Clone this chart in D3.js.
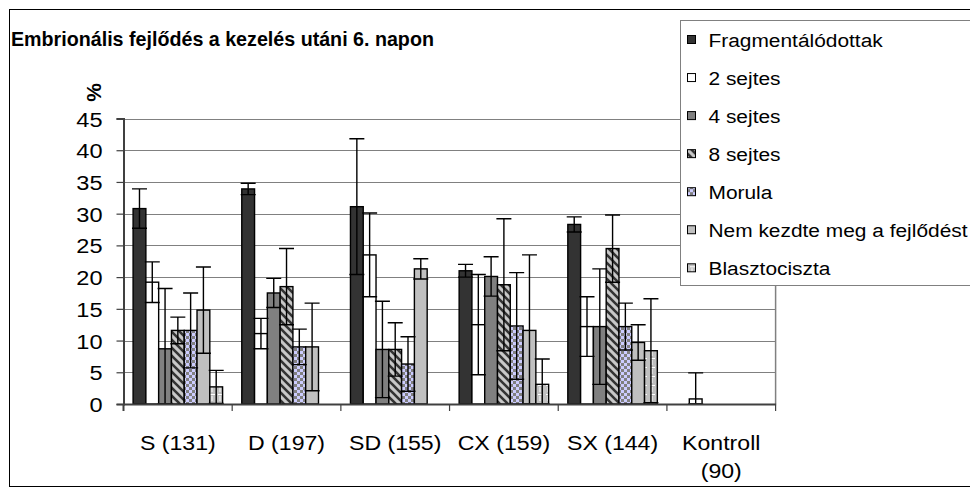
<!DOCTYPE html>
<html>
<head>
<meta charset="utf-8">
<script src="https://cdn.jsdelivr.net/npm/d3@7"></script>
<style>
  body { margin: 0; background: #fff; }
  svg { display: block; }
  text { font-family: "Liberation Sans", Arial, sans-serif; fill: #000; }
</style>
</head>
<body>
<div id="chart"></div>
<script>
// group labels (x axis), '\n' marks a line break
const categories = ['S (131)', 'D (197)', 'SD (155)', 'CX (159)', 'SX (144)', 'Kontroll\n(90)'];
const series = ['Fragmentálódottak', '2 sejtes', '4 sejtes', '8 sejtes', 'Morula', 'Nem kezdte meg a fejlődést', 'Blasztociszta'];
const yTicks = [0, 5, 10, 15, 20, 25, 30, 35, 40, 45];

// mean % per series, one value per group
const fragmentalodottak = [30.8, 33.9, 31.1, 21.0, 28.3, 0];
const ketSejtes        = [19.2, 11.1, 23.5, 12.5, 12.2, 0.8];
const negySejtes       = [8.7, 17.5, 8.6, 20.1, 12.2, 0];
const nyolcSejtes      = [11.6, 18.5, 8.6, 18.8, 24.5, 0];
const morula           = [11.6, 9.0, 6.3, 12.3, 12.2, 0];
const nemKezdte        = [14.8, 9.0, 21.3, 11.6, 9.7, 0];
const blasztociszta    = [2.7, 0, 0, 3.1, 8.4, 0];

// error (+/-) per series
const errFragm   = [3.1, 0.9, 10.7, 1.0, 1.2, 0];
const errKet     = [3.2, 2.4, 6.6, 7.9, 4.7, 4.1];
const errNegy    = [9.5, 2.3, 7.6, 3.1, 9.1, 0];
const errNyolc   = [2.1, 6.0, 4.2, 10.4, 5.3, 0];
const errMorula  = [5.9, 2.8, 4.3, 8.4, 3.7, 0];
const errNem     = [6.8, 6.9, 1.6, 11.9, 2.8, 0];
const errBlaszto = [2.6, 0, 0, 4.0, 8.2, 0];

const values = [fragmentalodottak, ketSejtes, negySejtes, nyolcSejtes, morula, nemKezdte, blasztociszta];
const errors = [errFragm, errKet, errNegy, errNyolc, errMorula, errNem, errBlaszto];

const width = 970, height = 495;

const svg = d3.select('#chart').append('svg')
    .attr('width', width)
    .attr('height', height);

/*************************** patterns **************************/
const defs = svg.append('defs');

// 8 sejtes: dark diagonal stripes on light grey
const pStripe = defs.append('pattern').attr('id', 'p-stripe')
    .attr('patternUnits', 'userSpaceOnUse').attr('width', 8).attr('height', 8);
pStripe.append('rect').attr('width', 8).attr('height', 8).attr('fill', '#c8c8c8');
pStripe.append('path').attr('d', 'M-2,-2 L10,10 M-2,6 L2,10 M6,-2 L10,2')
    .attr('stroke', '#333').attr('stroke-width', 2.6);

// Morula: grey / lavender checks
const pCheck = defs.append('pattern').attr('id', 'p-check')
    .attr('patternUnits', 'userSpaceOnUse').attr('width', 6).attr('height', 6);
pCheck.append('rect').attr('width', 6).attr('height', 6).attr('fill', '#ccccff');
pCheck.append('rect').attr('width', 3).attr('height', 3).attr('fill', '#808080');
pCheck.append('rect').attr('x', 3).attr('y', 3).attr('width', 3).attr('height', 3).attr('fill', '#808080');

// Blasztociszta: light grey with white grid marks
const pGrid = defs.append('pattern').attr('id', 'p-grid')
    .attr('patternUnits', 'userSpaceOnUse').attr('width', 8).attr('height', 9);
pGrid.append('rect').attr('width', 8).attr('height', 9).attr('fill', '#c0c0c0');
pGrid.append('path').attr('d', 'M4,0 V5 M2,7.5 H7')
    .attr('stroke', '#fff').attr('stroke-width', 1);

const fills = ['#333333', '#ffffff', '#808080', 'url(#p-stripe)', 'url(#p-check)', '#c0c0c0', 'url(#p-grid)'];

/*************************** frame & title **************************/
svg.append('rect')
    .attr('x', 9.5).attr('y', 9.5)
    .attr('width', 1000).attr('height', 477)
    .attr('fill', '#fff').attr('stroke', '#000').attr('stroke-width', 1);

// the original text is drawn a bit wider than plain Arial
function stretchedText(parent, x, y, str, size, sx, anchor, bold) {
    return parent.append('text')
        .attr('transform', `translate(${x},${y}) scale(${sx},1)`)
        .attr('text-anchor', anchor || 'start')
        .style('font-size', size + 'px')
        .style('font-weight', bold ? 'bold' : 'normal')
        .text(str);
}

stretchedText(svg, 11, 46, 'Embrionális fejlődés a kezelés utáni 6. napon', 20.5, 0.96, 'start', true);

svg.append('text')
    .attr('transform', 'translate(100.5,92.5) rotate(-90)')
    .attr('text-anchor', 'middle')
    .style('font-size', '21px')
    .style('font-weight', 'bold')
    .text('%');

/*************************** scales **************************/
const plotLeft = 123.5, plotRight = 775.6;
const y = d3.scaleLinear().domain([0, 45]).range([404, 118.5]);
const x0 = d3.scaleBand().domain(categories).range([plotLeft, plotRight]).paddingInner(0).paddingOuter(0);
const x1 = d3.scaleBand().domain(d3.range(series.length)).range([0, x0.bandwidth()])
    .paddingInner(0).paddingOuter(0.75);

// gridlines
svg.append('g').selectAll('line')
    .data(yTicks.filter(d => d > 0))
    .enter().append('line')
    .attr('x1', plotLeft).attr('x2', plotRight)
    .attr('y1', d => Math.round(y(d)) + 0.5).attr('y2', d => Math.round(y(d)) + 0.5)
    .attr('stroke', '#808080').attr('stroke-width', 1);

// right border of plot area
svg.append('line')
    .attr('x1', plotRight).attr('x2', plotRight)
    .attr('y1', y(45)).attr('y2', y(0))
    .attr('stroke', '#808080').attr('stroke-width', 1.5);

/*************************** bars **************************/
const barData = [];
categories.forEach((c, gi) => {
    series.forEach((s, si) => {
        barData.push({ cat: c, si: si, v: values[si][gi], e: errors[si][gi] });
    });
});

const bars = svg.append('g');
bars.selectAll('rect')
    .data(barData)
    .enter().append('rect')
    .attr('x', d => x0(d.cat) + x1(d.si))
    .attr('y', d => y(d.v))
    .attr('width', x1.bandwidth())
    .attr('height', d => y(0) - y(d.v))
    .attr('fill', d => fills[d.si])
    .attr('stroke', '#000')
    .attr('stroke-width', 1.4);

// error bars
const capHalf = 7.5;
const eb = svg.append('g').attr('stroke', '#000').attr('stroke-width', 1.4).attr('fill', 'none');
eb.selectAll('path')
    .data(barData.filter(d => d.e > 0))
    .enter().append('path')
    .attr('d', d => {
        const cx = x0(d.cat) + x1(d.si) + x1.bandwidth() / 2;
        const top = y(d.v + d.e);
        const bot = y(Math.max(0, d.v - d.e));
        return `M${cx},${top}V${bot}M${cx - capHalf},${top}H${cx + capHalf}M${cx - capHalf},${bot}H${cx + capHalf}`;
    });

/*************************** axes **************************/
const yAxis = svg.append('g')
    .attr('transform', `translate(${plotLeft},0)`)
    .call(d3.axisLeft(y).tickValues(yTicks).tickSize(7).tickFormat(d3.format('d')));
yAxis.select('.domain').attr('stroke', '#404040').attr('stroke-width', 2);
yAxis.selectAll('.tick line').attr('stroke', '#404040').attr('stroke-width', 1.2);
yAxis.selectAll('.tick text')
    .attr('x', null).attr('dy', null)
    .attr('text-anchor', 'end')
    .attr('transform', `translate(-21,7.5) scale(1.15,1)`)
    .style('font-size', '20.5px')
    .style('font-family', '"Liberation Sans", Arial, sans-serif')
    .attr('fill', '#000');

// x axis line and group separators
const xAxis = svg.append('g')
    .attr('transform', `translate(0,${y(0)})`)
    .call(d3.axisBottom(x0).tickSize(0).tickFormat(''));
xAxis.select('.domain').attr('stroke', '#404040').attr('stroke-width', 2);
xAxis.selectAll('.sep')
    .data(d3.range(categories.length + 1))
    .enter().append('line')
    .attr('class', 'sep')
    .attr('x1', i => plotLeft + i * x0.bandwidth())
    .attr('x2', i => plotLeft + i * x0.bandwidth())
    .attr('y1', 0).attr('y2', 7)
    .attr('stroke', '#404040').attr('stroke-width', i => i === 0 ? 2 : 1.2);

// x labels
categories.forEach(c => {
    c.split('\n').forEach((line, li) => {
        stretchedText(svg, x0(c) + x0.bandwidth() / 2, 450 + li * 28, line, 21, 1.1, 'middle', false);
    });
});

/*************************** legend **************************/
const legend = svg.append('g');
legend.append('rect')
    .attr('x', 680.5).attr('y', 20.5)
    .attr('width', 320).attr('height', 265)
    .attr('fill', '#fff').attr('stroke', '#808080').attr('stroke-width', 1);

const legendEntries = legend.selectAll('.entry')
    .data(series)
    .enter().append('g')
    .attr('class', 'entry')
    .attr('transform', (d, i) => `translate(0,${40 + i * 38.05})`);

legendEntries.append('rect')
    .attr('x', 687.5).attr('y', -4.5)
    .attr('width', 8).attr('height', 8)
    .attr('fill', (d, i) => fills[i])
    .attr('stroke', '#000').attr('stroke-width', 1);

legendEntries.each(function(d) {
    stretchedText(d3.select(this), 708.5, 7, d, 19, 1.1, 'start', false);
});
</script>
</body>
</html>
